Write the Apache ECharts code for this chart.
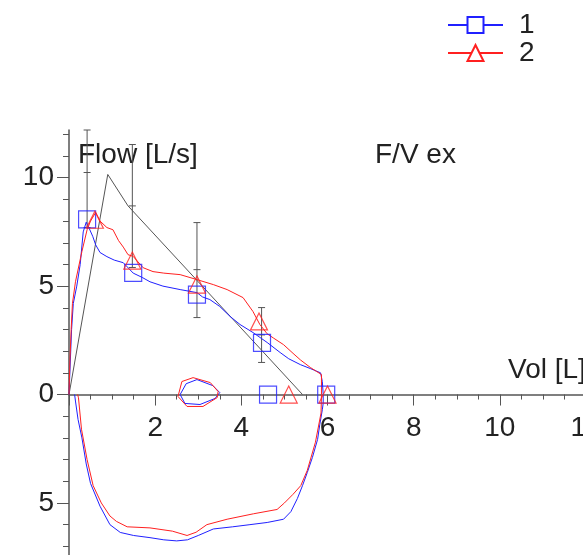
<!DOCTYPE html>
<html>
<head>
<meta charset="utf-8">
<script src="https://cdn.jsdelivr.net/npm/echarts@6/dist/echarts.min.js"></script>
<style>
html, body { margin: 0; padding: 0; background: #fff; }
#chart { width: 583px; height: 555px; }
</style>
</head>
<body>
<div id="chart"></div>
<script>
/* flow / volume loops, expiration up, inspiration down */
var loop1 = [
    [0,0],[0.03,1.5],[0.06,3.0],[0.1,4.2],[0.18,5.0],[0.26,6.0],[0.33,7.5],[0.4,7.95],[0.46,7.7],
    [0.55,7.3],[0.62,6.9],[0.72,6.55],[0.88,6.36],[1.05,6.2],[1.26,6.08],[1.49,5.6],[1.7,5.4],
    [1.88,5.2],[2.18,5.0],[2.58,4.84],[2.97,4.7],[3.1,4.5],[3.27,4.38],[3.5,4.06],[3.74,3.6],
    [3.97,3.23],[4.27,2.86],[4.6,2.4],[4.9,1.94],[5.1,1.65],[5.37,1.38],[5.6,1.2],[5.84,1.0],
    [5.88,0.6],[5.9,0],[5.9,-0.4],[5.88,-0.7],[5.82,-1.4],[5.77,-2.07],[5.65,-2.9],[5.53,-3.6],
    [5.42,-4.2],[5.3,-4.8],[5.15,-5.4],[4.98,-5.75],[4.6,-5.9],[4.2,-6.0],[3.8,-6.1],[3.35,-6.2],
    [3.0,-6.5],[2.75,-6.7],[2.5,-6.75],[2.2,-6.7],[1.88,-6.6],[1.5,-6.5],[1.19,-6.36],[0.95,-6.0],
    [0.72,-5.15],[0.5,-4.1],[0.4,-3.2],[0.3,-2.0],[0.21,-1.15],[0.15,-0.3],[0.13,0]
];
var loop2 = [
    [0,0],[0.02,1.5],[0.05,3.0],[0.08,4.2],[0.15,5.2],[0.3,6.6],[0.42,7.6],[0.5,8.0],[0.62,8.4],
    [0.72,8.0],[0.88,7.7],[1.02,7.6],[1.15,7.1],[1.26,6.8],[1.37,6.45],[1.49,6.37],[1.72,5.85],
    [1.95,5.67],[2.2,5.6],[2.58,5.53],[2.97,5.3],[3.35,5.07],[3.67,4.84],[4.04,4.47],[4.27,3.83],
    [4.43,3.23],[4.6,2.8],[4.75,2.6],[4.98,2.3],[5.2,1.9],[5.37,1.6],[5.6,1.25],[5.75,1.06],
    [5.86,0.92],[5.86,0],[5.85,-0.85],[5.72,-2.2],[5.53,-3.5],[5.38,-4.2],[5.2,-4.6],[5.0,-5.0],
    [4.83,-5.3],[4.28,-5.5],[3.67,-5.75],[3.2,-6.0],[2.95,-6.35],[2.74,-6.5],[2.4,-6.3],
    [1.88,-6.15],[1.35,-6.1],[1.1,-5.85],[0.95,-5.6],[0.75,-5.0],[0.56,-4.2],[0.42,-3.0],
    [0.29,-1.6],[0.22,-0.15],[0.2,0]
];
/* tidal loops */
var tidal1 = [[2.58,0],[2.72,0.5],[2.97,0.69],[3.34,0.41],[3.5,0.09],[3.39,-0.18],[3.04,-0.46],[2.69,-0.41],[2.58,0]];
var tidal2 = [[2.53,-0.09],[2.62,0.6],[2.88,0.78],[3.28,0.55],[3.46,0.14],[3.44,-0.14],[3.11,-0.55],[2.74,-0.55],[2.53,-0.09]];
/* marker points */
var marks1 = [[0.42,8.08],[1.49,5.61],[2.97,4.61],[4.48,2.38],[4.62,0],[5.97,0]];
var marks2 = [[0.6,8.06],[1.47,6.18],[2.97,5.07],[4.41,3.37],[5.1,0],[6.0,0]];
/* mean curve and error bars: x, low, mid, high */
var meanLine = [[0,0],[0.9,10.15],[1.37,8.7],[3.0,5.2],[4.5,1.98],[5.42,0]];
var errBars = [[0.42,7.7,10.24,12.78],[1.47,5.86,8.7,11.53],[2.97,3.55,5.76,7.93],[4.47,1.48,2.75,4.01]];
var yMajor = [-5,0,5,10];
var yMinor = [-7,-6,-4,-3,-2,-1,1,2,3,4,6,7,8,9,11,12];

var FONT = '"Liberation Sans", Arial, sans-serif';
var Y_MIN = -7.4, Y_MAX = 12.2;
var GRID_TOP = 130, GRID_H = 425;
// push the x axis up onto flow = 0
var xOffset = -(GRID_H * (0 - Y_MIN) / (Y_MAX - Y_MIN));

function renderErrorBar(params, api) {
    var x = api.value(0);
    var lo = api.coord([x, api.value(1)]);
    var mid = api.coord([x, api.value(2)]);
    var hi = api.coord([x, api.value(3)]);
    var top = Math.max(hi[1], params.coordSys.y);
    var w = 3.5;
    var st = {stroke: '#555', lineWidth: 1};
    return {
        type: 'group',
        children: [
            {type: 'line', shape: {x1: lo[0], y1: lo[1], x2: lo[0], y2: top}, style: st},
            {type: 'line', shape: {x1: lo[0] - w, y1: lo[1], x2: lo[0] + w, y2: lo[1]}, style: st},
            {type: 'line', shape: {x1: mid[0] - w, y1: mid[1], x2: mid[0] + w, y2: mid[1]}, style: st},
            {type: 'line', shape: {x1: hi[0] - w, y1: top, x2: hi[0] + w, y2: top}, style: st}
        ]
    };
}

var chart = echarts.init(document.getElementById('chart'));
var option = {
    animation: false,
    backgroundColor: '#fff',
    textStyle: {fontFamily: FONT},
    legend: {
        data: ['1', '2'],
        orient: 'vertical',
        left: 447,
        top: 11,
        padding: 0,
        itemWidth: 55,
        itemHeight: 20,
        itemGap: 0,
        textStyle: {fontSize: 28, color: '#222', fontFamily: FONT, lineHeight: 20, padding: [0, 0, 0, 11]}
    },
    graphic: [
        {type: 'text', left: 78, top: 141, style: {text: 'Flow [L/s]', fontSize: 28, fontFamily: FONT, fill: '#222'}},
        {type: 'text', left: 375, top: 141, style: {text: 'F/V ex', fontSize: 28, fontFamily: FONT, fill: '#222'}},
        {type: 'text', left: 508, top: 356, style: {text: 'Vol [L]', fontSize: 28, fontFamily: FONT, fill: '#222'}}
    ],
    grid: {left: 69, right: -3, top: GRID_TOP, height: GRID_H, containLabel: false, outerBoundsMode: 'none'},
    xAxis: {
        type: 'value', min: 0, max: 12, interval: 2, position: 'bottom', offset: xOffset,
        axisLine: {onZero: false, lineStyle: {color: '#555', width: 1.5}},
        axisTick: {length: 11, lineStyle: {color: '#555'}},
        minorTick: {show: true, splitNumber: 4, length: 5, lineStyle: {color: '#555'}},
        axisLabel: {showMinLabel: false, fontSize: 28, color: '#222', margin: 20, fontFamily: FONT},
        splitLine: {show: false}, minorSplitLine: {show: false}
    },
    yAxis: [
        {
            type: 'value', min: Y_MIN, max: Y_MAX, position: 'left',
            axisLine: {onZero: false, lineStyle: {color: '#555', width: 1.5}},
            axisTick: {customValues: yMajor, length: 12, lineStyle: {color: '#555'}},
            axisLabel: {customValues: yMajor, fontSize: 28, color: '#222', margin: 15, fontFamily: FONT,
                formatter: function (v) { return String(Math.abs(v)); }},
            splitLine: {show: false}
        },
        {
            type: 'value', min: Y_MIN, max: Y_MAX, position: 'left',
            axisLine: {show: false, onZero: false},
            axisTick: {customValues: yMinor, length: 6, lineStyle: {color: '#555'}},
            axisLabel: {show: false},
            splitLine: {show: false}
        }
    ],
    series: [
        {
            name: '1', type: 'line', data: loop1, showSymbol: false, symbol: 'emptyRect',
            color: '#2020ff', lineStyle: {color: '#2020ff', width: 1}, z: 3
        },
        {
            name: '2', type: 'line', data: loop2, showSymbol: false, symbol: 'emptyTriangle',
            color: '#ff2020', lineStyle: {color: '#ff2020', width: 1}, z: 3
        },
        {
            name: 't1', type: 'line', data: tidal1, showSymbol: false,
            lineStyle: {color: '#2020ff', width: 1}, z: 3
        },
        {
            name: 't2', type: 'line', data: tidal2, showSymbol: false,
            lineStyle: {color: '#ff2020', width: 1}, z: 3
        },
        {
            name: 'mean', type: 'line', data: meanLine, showSymbol: false,
            lineStyle: {color: '#555', width: 1}, z: 2
        },
        {
            name: 'sd', type: 'custom', data: errBars, renderItem: renderErrorBar,
            encode: {x: 0, y: [1, 2, 3]}, z: 2
        },
        {
            name: '1', type: 'scatter', data: marks1, symbol: 'rect', symbolSize: 17,
            itemStyle: {color: 'transparent', borderColor: '#2020ff', borderWidth: 1.2}, z: 4
        },
        {
            name: '2', type: 'scatter', data: marks2, symbol: 'triangle', symbolSize: 17,
            itemStyle: {color: 'transparent', borderColor: '#ff2020', borderWidth: 1.2}, z: 4
        }
    ]
};
chart.setOption(option);
</script>
</body>
</html>
